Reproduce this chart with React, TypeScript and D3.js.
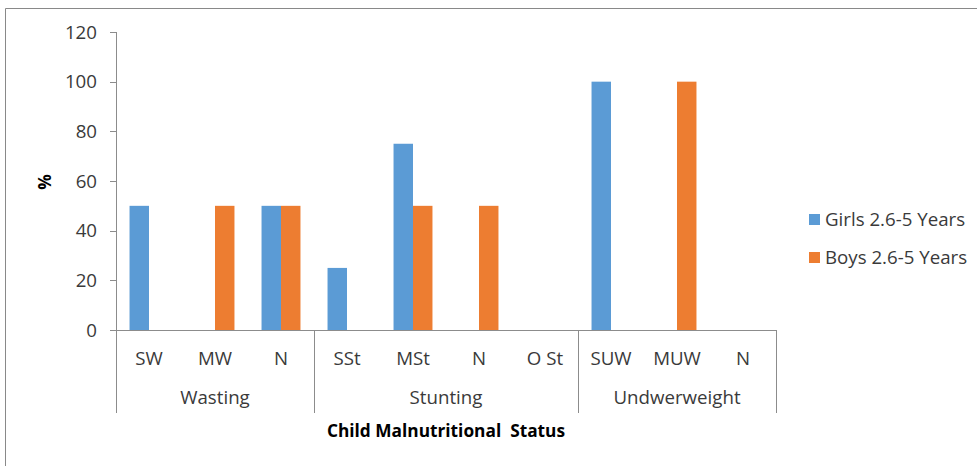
import React from "react";
import * as d3 from "d3";

const categories = ["SW", "MW", "N", "SSt", "MSt", "N ", "O St", "SUW", "MUW", "N  "];
const categoryLabels = ["SW", "MW", "N", "SSt", "MSt", "N", "O St", "SUW", "MUW", "N"];
const groups = ["Wasting", "Stunting", "Undwerweight"];
const groupSizes = [3, 4, 3];
const girls = [50, 0, 50, 25, 75, 0, 0, 100, 0, 0];
const boys = [0, 50, 50, 0, 50, 50, 0, 0, 100, 0];
const seriesNames = ["Girls 2.6-5 Years", "Boys 2.6-5 Years"];
const seriesColors = ["#5B9BD5", "#ED7D31"];
const yTicks = [0, 20, 40, 60, 80, 100, 120];

const W = 977;
const H = 466;
const left = 116;
const right = 776;
const top = 32;
const bottom = 330;
const axisBottom = 413;
const FONT = "'Open Sans', sans-serif";
const FS = 18.7;
const TEXT = "#3a3a3a";
const AXIS = "#8c8c8c";

export default function App() {
  const x = d3
    .scaleBand<string>()
    .domain(categories)
    .range([left, right])
    .paddingInner(0.41)
    .paddingOuter(0.205);
  const inner = d3.scaleBand<number>().domain([0, 1]).range([0, x.bandwidth()]);
  const y = d3.scaleLinear().domain([0, 120]).range([bottom, top]);
  const series = [girls, boys];

  const step = x.step();
  const bounds: number[] = [left];
  let acc = 0;
  groupSizes.forEach((s) => {
    acc += s;
    bounds.push(left + acc * step);
  });

  return (
    <svg
      width={W}
      height={H}
      style={{ position: "absolute", left: 0, top: 0, background: "#fff" }}
    >
      <rect x={0} y={0} width={W} height={H} fill="#fff" />
      <path d={`M5.5,${H}V8.5H${W}`} fill="none" stroke="#898989" strokeWidth={1} />

      {series.map((vals, si) =>
        vals.map((v, i) =>
          v > 0 ? (
            <rect
              key={`b${si}-${i}`}
              x={(x(categories[i]) as number) + (inner(si) as number)}
              y={y(v)}
              width={inner.bandwidth()}
              height={y(0) - y(v)}
              fill={seriesColors[si]}
            />
          ) : null
        )
      )}

      <line x1={left + 0.5} x2={left + 0.5} y1={top} y2={axisBottom} stroke={AXIS} />
      {yTicks.map((t) => (
        <g key={`yt${t}`}>
          <line x1={left - 6} x2={left} y1={Math.round(y(t)) + 0.5} y2={Math.round(y(t)) + 0.5} stroke={AXIS} />
          <text
            x={97}
            y={y(t)}
            dy="0.35em"
            textAnchor="end"
            fontFamily={FONT}
            fontSize={FS}
            fill={TEXT}
          >
            {t}
          </text>
        </g>
      ))}

      <line x1={left} x2={right} y1={bottom + 0.5} y2={bottom + 0.5} stroke={AXIS} />
      {bounds.slice(1).map((b, i) => (
        <line key={`gb${i}`} x1={b + 0.5} x2={b + 0.5} y1={bottom} y2={axisBottom} stroke={AXIS} />
      ))}
      {categories.map((c, i) => (
        <text
          key={`cl${i}`}
          x={(x(c) as number) + x.bandwidth() / 2}
          y={365}
          textAnchor="middle"
          fontFamily={FONT}
          fontSize={FS}
          fill={TEXT}
        >
          {categoryLabels[i]}
        </text>
      ))}
      {groups.map((g, i) => (
        <text
          key={`g${i}`}
          x={(bounds[i] + bounds[i + 1]) / 2}
          y={404}
          textAnchor="middle"
          fontFamily={FONT}
          fontSize={FS}
          fill={TEXT}
        >
          {g}
        </text>
      ))}

      <text
        x={(left + right) / 2}
        y={437}
        textAnchor="middle"
        fontFamily={FONT}
        fontWeight="bold"
        fontSize={17.3}
        fill="#000"
        style={{ whiteSpace: "pre" }}
      >
        {"Child Malnutritional  Status"}
      </text>
      <text
        transform={`translate(45,182) rotate(-90)`}
        textAnchor="middle"
        dy="0.35em"
        fontFamily={FONT}
        fontWeight="bold"
        fontSize={17.3}
        fill="#000"
      >
        %
      </text>

      {seriesNames.map((n, i) => (
        <g key={`lg${i}`} transform={`translate(809,${214 + i * 38})`}>
          <rect x={0} y={0} width={11} height={11} fill={seriesColors[i]} />
          <text x={16} y={12} fontFamily={FONT} fontSize={FS} fill={TEXT}>
            {n}
          </text>
        </g>
      ))}
    </svg>
  );
}
